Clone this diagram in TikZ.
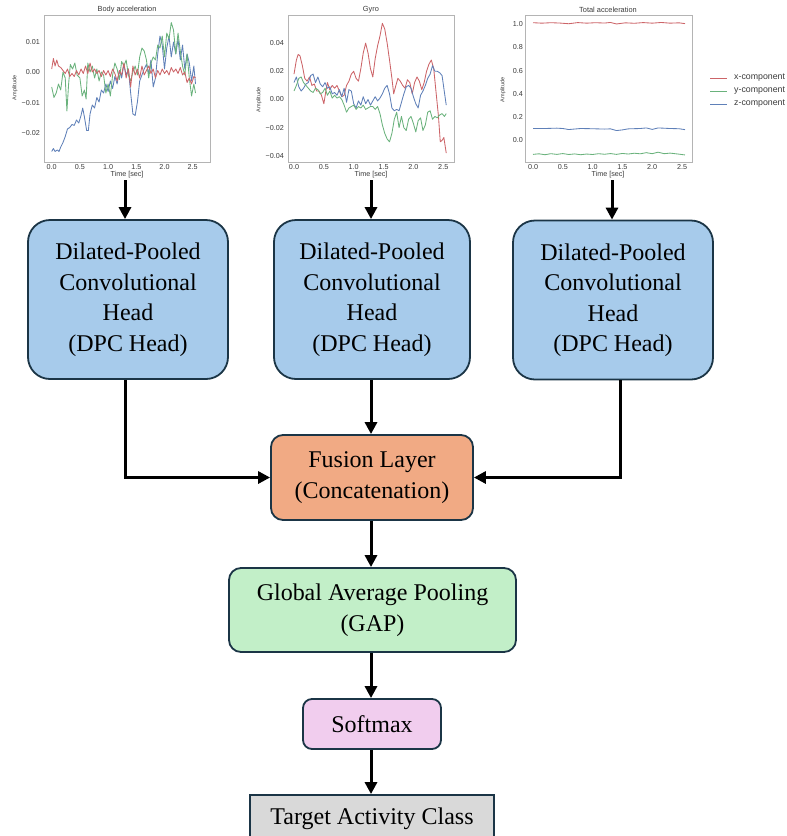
\documentclass[tikz,border=0pt]{standalone}
\usepackage{fontspec}
\setmainfont{Liberation Serif}
\newfontfamily\plotfont{Liberation Sans}
\usetikzlibrary{arrows.meta}

\definecolor{headblue}{HTML}{A7CBEB}
\definecolor{edgedark}{HTML}{1B3546}
\definecolor{fusionorange}{HTML}{F1AA84}
\definecolor{gapgreen}{HTML}{C2EFC8}
\definecolor{softpink}{HTML}{F1CDEE}
\definecolor{targetgray}{HTML}{D9D9D9}
\definecolor{serred}{HTML}{CC6468}
\definecolor{sergreen}{HTML}{6AB27C}
\definecolor{serblue}{HTML}{5F80B8}
\definecolor{framegray}{HTML}{B4B4B4}
\definecolor{ticktext}{HTML}{3A3A3A}

\begin{document}
\begin{tikzpicture}[x=1pt,y=-1pt,
  block/.style={draw=edgedark, line width=1.8pt, align=center, inner sep=0pt,
    font=\fontsize{24}{30.5}\selectfont},
  dpc/.style={block, fill=headblue, rounded corners=22pt,
    minimum width=200pt, minimum height=159pt},
  flow/.style={line width=3pt, -{Triangle[length=12pt,width=12pt]}},
  frame/.style={draw=framegray, line width=0.9pt},
  tick/.style={font=\plotfont\fontsize{7.2}{8}\selectfont, text=ticktext, inner sep=0pt},
  ylab/.style={font=\plotfont\fontsize{5.5}{6}\selectfont, text=ticktext, inner sep=0pt, rotate=90},
  ttl/.style={font=\plotfont\fontsize{7.4}{8}\selectfont, text=ticktext, inner sep=0pt},
  sig/.style={line width=0.85pt, line join=round},
  legtext/.style={font=\plotfont\fontsize{8.8}{9}\selectfont, text=ticktext, inner sep=0pt, anchor=west}
]
\useasboundingbox (0,0) rectangle (787,836);
\clip (0,0) rectangle (787,836);

% ---------- signal panel: body acceleration ----------
\draw[frame] (44,15) rectangle (210,162);
\node[ttl] (t1) at (127,10) {Body acceleration};
\node[ylab] (l1) at (15,88) {Amplitude};
\foreach \v/\y [count=\k] in {0.01/42,0.00/72,−0.01/103,−0.02/133}
  \node[tick, anchor=east] (p1y\k) at (40,\y) {\v};
\foreach \v [count=\k] in {0.0,0.5,1.0,1.5,2.0,2.5}
  \node[tick] (p1x\k) at ({51.7+56.4*(\k-1)*0.5},167) {\v};
\node[tick] (x1) at (127,175) {Time [sec]};
\begin{scope}[shift={(51.7,72)}, x=56.4pt, y=3pt]
  \draw[sig, serblue] plot coordinates {(0,-26.5)(0.03,-25.5)(0.06,-26.5)(0.1,-26)(0.13,-26.5)(0.16,-25)(0.2,-23.5)(0.24,-21.5)(0.28,-19)(0.32,-18.5)(0.36,-17.5)(0.4,-17.8)(0.44,-16)(0.48,-17)(0.52,-14.5)(0.55,-12)(0.58,-15)(0.62,-19.5)(0.65,-19.5)(0.68,-14)(0.72,-11)(0.76,-12)(0.8,-8.5)(0.84,-10)(0.88,-6)(0.92,-7)(0.96,-4)(1.0,-6.5)(1.04,-3)(1.08,-5.5)(1.12,-1.5)(1.16,-4)(1.2,0.5)(1.24,-2)(1.28,2.5)(1.32,-1)(1.36,1)(1.4,-7)(1.44,-14)(1.48,-14.5)(1.52,-10)(1.56,-3)(1.6,-1)(1.64,1)(1.68,2.5)(1.72,-0.5)(1.76,4)(1.8,-5)(1.84,-2)(1.88,6)(1.92,12)(1.96,9)(2.0,1)(2.04,8)(2.08,12)(2.12,5)(2.16,10)(2.2,6)(2.24,11)(2.28,4)(2.32,9)(2.36,1)(2.4,6)(2.44,3)(2.48,-3)(2.52,2)(2.55,-4)};
  \draw[sig, sergreen] plot coordinates {(0,-5)(0.04,-8.5)(0.08,-7)(0.12,-4)(0.16,-6)(0.2,0)(0.24,-2)(0.27,-13)(0.3,-4)(0.33,2.5)(0.37,1)(0.41,3)(0.45,-1)(0.5,-2)(0.54,-8)(0.58,-6)(0.61,-9)(0.64,3)(0.68,0)(0.72,2)(0.76,-2)(0.8,1)(0.84,-3)(0.88,0)(0.92,-1)(0.96,-7)(1.0,-4)(1.04,-8)(1.08,-1)(1.12,3)(1.16,1)(1.2,-2.5)(1.24,3.5)(1.28,2)(1.32,4)(1.36,-1)(1.4,-3)(1.44,0)(1.48,2)(1.52,-1)(1.56,5)(1.6,8)(1.64,7)(1.68,4)(1.72,-2)(1.76,3)(1.8,5)(1.84,4)(1.88,9)(1.92,8)(1.96,12)(2.0,5)(2.04,13)(2.08,11)(2.12,16.5)(2.16,14)(2.2,6)(2.24,13)(2.28,7)(2.32,2)(2.36,-1)(2.4,6)(2.44,-2)(2.48,-8)(2.52,-4)(2.55,-7)};
  \draw[sig, serred] plot coordinates {(0,1)(0.03,4.5)(0.06,2)(0.09,4)(0.12,2)(0.16,1.5)(0.2,0.5)(0.24,-0.5)(0.28,1)(0.32,-1.5)(0.36,-0.5)(0.4,-1.5)(0.44,0.5)(0.48,-1)(0.52,1)(0.56,-0.5)(0.6,2)(0.64,-0.5)(0.68,3)(0.72,0)(0.76,1)(0.8,-0.5)(0.84,0.5)(0.88,-1.5)(0.92,0.5)(0.96,-1)(1.0,0.5)(1.04,-1.5)(1.08,1)(1.12,-0.5)(1.16,-3)(1.2,0.5)(1.24,-1)(1.28,3)(1.32,-2)(1.36,1)(1.4,-5)(1.44,2)(1.48,-1)(1.52,1)(1.56,-2)(1.6,2)(1.64,-1)(1.68,0.5)(1.72,2)(1.76,-0.5)(1.8,1)(1.84,-2)(1.88,0.5)(1.92,-1)(1.96,1)(2.0,-0.5)(2.04,0.5)(2.08,-1)(2.12,1.5)(2.16,0)(2.2,1)(2.24,-0.5)(2.28,1.5)(2.32,-1)(2.36,0)(2.4,-3.5)(2.44,-2)(2.48,-4)(2.52,-1.5)(2.55,-2)};
\end{scope}

% ---------- signal panel: gyro ----------
\draw[frame] (288,15) rectangle (454,162);
\node[ttl] (t2) at (371,10) {Gyro};
\node[ylab] (l2) at (259,100) {Amplitude};
\foreach \v/\y [count=\k] in {0.04/43,0.02/71.5,0.00/99.5,−0.02/128,−0.04/156}
  \node[tick, anchor=east] (p2y\k) at (284,\y) {\v};
\foreach \v [count=\k] in {0.0,0.5,1.0,1.5,2.0,2.5}
  \node[tick] (p2x\k) at ({294+59.7*(\k-1)*0.5},167) {\v};
\node[tick] (x2) at (371,175) {Time [sec]};
\begin{scope}[shift={(294,99.5)}, x=59.7pt, y=1.41pt]
  \draw[sig, serred] plot coordinates {(0,18)(0.04,28)(0.07,32)(0.1,31)(0.14,24)(0.18,15)(0.22,13)(0.26,16)(0.3,10)(0.34,11)(0.38,6)(0.42,6)(0.46,3)(0.5,-3)(0.53,5)(0.56,12)(0.6,7)(0.64,10)(0.68,8)(0.72,10)(0.76,6)(0.8,2)(0.84,3)(0.88,10)(0.92,13)(0.96,18)(1.0,20)(1.04,15)(1.08,13)(1.12,22)(1.16,33)(1.2,40)(1.24,33)(1.28,22)(1.32,16)(1.36,29)(1.4,38)(1.44,45)(1.48,54)(1.52,50)(1.56,40)(1.6,28)(1.64,15)(1.67,4)(1.7,9)(1.74,15)(1.78,13)(1.82,10)(1.86,8)(1.9,14)(1.94,12)(1.98,4)(2.02,12)(2.06,16)(2.1,13)(2.14,7)(2.18,12)(2.22,20)(2.26,25)(2.3,28)(2.34,22)(2.38,5)(2.42,-12)(2.45,-30)(2.48,-29)(2.51,-27)(2.55,-38)};
  \draw[sig, serblue] plot coordinates {(0,12)(0.04,16)(0.08,9)(0.12,6)(0.16,8)(0.2,11)(0.24,12)(0.28,17)(0.32,18)(0.36,12)(0.4,16)(0.44,11)(0.48,9)(0.52,12)(0.56,8)(0.6,9)(0.64,4)(0.68,5)(0.72,3)(0.76,7)(0.8,2)(0.84,8)(0.88,-2)(0.92,7)(0.96,6)(1.0,-3)(1.04,-6)(1.08,-1)(1.12,-4)(1.16,2)(1.2,-3)(1.24,0)(1.28,-4)(1.32,-1)(1.36,2)(1.4,-1)(1.44,1)(1.48,4)(1.52,8)(1.56,10)(1.6,4)(1.64,-6)(1.68,-8)(1.72,-7)(1.76,-8)(1.8,-2)(1.84,4)(1.88,9)(1.92,10)(1.96,8)(2.0,2)(2.04,-3)(2.08,-6)(2.12,3)(2.16,6)(2.2,10)(2.24,15)(2.28,18)(2.32,24)(2.36,20)(2.4,20)(2.44,19)(2.48,17)(2.52,5)(2.55,-4)};
  \draw[sig, sergreen] plot coordinates {(0,6)(0.04,10)(0.08,15)(0.12,16)(0.16,12)(0.2,10)(0.24,8)(0.28,6)(0.32,5)(0.36,8)(0.4,7)(0.44,4)(0.48,5)(0.52,8)(0.56,3)(0.6,6)(0.64,1)(0.68,3)(0.72,1)(0.76,2)(0.8,0)(0.84,-4)(0.88,-9)(0.92,-6)(0.96,-5)(1.0,-4)(1.04,-7)(1.08,-5)(1.12,-6)(1.16,-4)(1.2,-7)(1.24,-6)(1.28,-5)(1.32,-5)(1.36,-7)(1.4,-5)(1.44,-10)(1.48,-18)(1.52,-24)(1.56,-28)(1.6,-30)(1.64,-24)(1.68,-14)(1.72,-9)(1.76,-20)(1.8,-12)(1.84,-20)(1.88,-22)(1.92,-14)(1.96,-12)(2.0,-17)(2.04,-23)(2.08,-15)(2.12,-13)(2.16,-22)(2.2,-18)(2.24,-9)(2.28,-8)(2.32,-14)(2.36,-12)(2.4,-13)(2.44,-11)(2.48,-10)(2.52,-12)(2.55,-10)};
\end{scope}

% ---------- signal panel: total acceleration ----------
\draw[frame] (525,15) rectangle (692,162);
\node[ttl] (t3) at (608,10) {Total acceleration};
\node[ylab] (l3) at (503,90) {Amplitude};
\foreach \v/\y [count=\k] in {1.0/24,0.8/47,0.6/71,0.4/94,0.2/117,0.0/140}
  \node[tick, anchor=east] (p3y\k) at (523,\y) {\v};
\foreach \v [count=\k] in {0.0,0.5,1.0,1.5,2.0,2.5}
  \node[tick] (p3x\k) at ({533+59.6*(\k-1)*0.5},167) {\v};
\node[tick] (x3) at (608,175) {Time [sec]};
\begin{scope}[shift={(533,140)}, x=59.6pt, y=1.15pt]
  \draw[sig, serred] plot coordinates {(0,102)(0.15,101.6)(0.3,102)(0.45,101.7)(0.6,101.1)(0.75,102.1)(0.9,101.6)(1.05,102)(1.2,101.7)(1.3,102.2)(1.4,100.9)(1.55,101.9)(1.7,101.5)(1.85,102.1)(2.0,101.6)(2.15,102.2)(2.3,101.6)(2.45,101.9)(2.55,101.2)};
  \draw[sig, sergreen] plot coordinates {(0,-12.5)(0.1,-12)(0.2,-12.8)(0.3,-11.9)(0.4,-12.5)(0.5,-11.8)(0.6,-12.6)(0.7,-12.1)(0.8,-12.8)(0.9,-12.2)(1.0,-12.6)(1.1,-11.9)(1.2,-12.4)(1.3,-11.8)(1.4,-12.5)(1.5,-11.7)(1.6,-12.2)(1.7,-11.5)(1.8,-12)(1.9,-11)(2.0,-11.9)(2.1,-10.6)(2.2,-11.9)(2.3,-11.4)(2.45,-12.3)(2.55,-13)};
  \draw[sig, serblue] plot coordinates {(0,10)(0.2,10)(0.4,10.3)(0.5,10)(0.6,9.1)(0.8,10)(1.0,9.8)(1.2,9.5)(1.3,9.7)(1.4,8.2)(1.5,8.8)(1.6,9.7)(1.8,10)(1.9,10.5)(2.0,9.2)(2.1,10.5)(2.3,10)(2.45,9.8)(2.55,9)};
\end{scope}

% legend of the three axes
\draw[sig, serred]   (710,78)  -- (727,78);
\draw[sig, sergreen] (710,91)  -- (727,91);
\draw[sig, serblue]  (710,104) -- (727,104);
\node[legtext] (lx) at (734,78)  {x-component};
\node[legtext] (ly) at (734,91)  {y-component};
\node[legtext] (lz) at (734,104) {z-component};

% ---------- processing blocks ----------
\node[dpc] (d1) at (128,299.5) {Dilated-Pooled\\Convolutional\\Head\\(DPC Head)};
\node[dpc, minimum width=196pt] (d2) at (372,299.5) {Dilated-Pooled\\Convolutional\\Head\\(DPC Head)};
\node[dpc] (d3) at (613,300) {Dilated-Pooled\\Convolutional\\Head\\(DPC Head)};

\node[block, fill=fusionorange, rounded corners=12pt, minimum width=202pt, minimum height=85pt]
  (fu) at (372,477.5) {Fusion Layer\\(Concatenation)};
\node[block, fill=gapgreen, rounded corners=12pt, minimum width=287pt, minimum height=84pt]
  (gap) at (372.5,610) {Global Average Pooling\\(GAP)};
\node[block, fill=softpink, rounded corners=9pt, minimum width=138pt, minimum height=50pt]
  (sm) at (372,724) {Softmax};
\node[block, fill=targetgray, minimum width=244pt, minimum height=48pt]
  (tc) at (372,819) {Target Activity Class};

% ---------- connectors ----------
\coordinate (a1) at (125,180);
\coordinate (a2) at (371,180);
\coordinate (a3) at (612,180);
\coordinate (b3) at (620,380);
\draw[flow] (a1) -- (a1 |- d1.north);
\draw[flow] (a2) -- (a2 |- d2.north);
\draw[flow] (a3) -- (a3 |- d3.north);
\draw[flow] (a1 |- d1.south) |- (fu.west);
\draw[flow] (a2 |- d2.south) -- (a2 |- fu.north);
\draw[flow] (b3 |- d3.south) |- (fu.east);
\draw[flow] (a2 |- fu.south) -- (a2 |- gap.north);
\draw[flow] (a2 |- gap.south) -- (a2 |- sm.north);
\draw[flow] (a2 |- sm.south) -- (a2 |- tc.north);
\end{tikzpicture}
\end{document}
